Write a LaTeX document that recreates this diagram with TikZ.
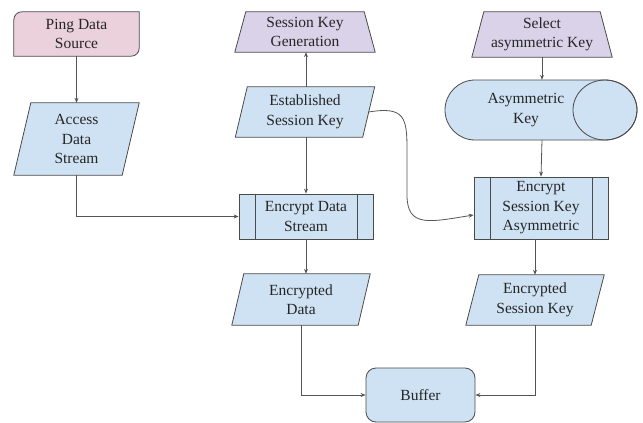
\documentclass[tikz,border=0pt]{standalone}
\usepackage{fontspec}
\setmainfont{Liberation Serif}
\usetikzlibrary{arrows.meta,backgrounds}
\definecolor{pinkF}{HTML}{EAD1DC}
\definecolor{purpF}{HTML}{D9D2E9}
\definecolor{blueF}{HTML}{CFE2F3}
\definecolor{edgeC}{HTML}{4A4A4A}
\definecolor{lineC}{HTML}{555555}
\definecolor{txtC}{HTML}{262626}
\tikzset{
  box/.style={rectangle, inner sep=0pt, align=center, text=txtC,
    font=\fontsize{15.5pt}{19.5pt}\selectfont},
  shp/.style={draw=edgeC, line width=0.8pt},
  proc/.style={box, draw=edgeC, line width=0.8pt, fill=blueF},
  arr/.style={draw=lineC, line width=0.8pt, -{Stealth[length=5pt,width=4pt]}},
}
\newcommand\mypara[3]{\path[shp, fill=#3] ([xshift=#2]#1.north west) -- (#1.north east) -- ([xshift=-#2]#1.south east) -- (#1.south west) -- cycle;}
\newcommand\mytrap[3]{\path[shp, fill=#3] ([xshift=#2]#1.north west) -- ([xshift=-#2]#1.north east) -- (#1.south east) -- (#1.south west) -- cycle;}
\begin{document}
\begin{tikzpicture}[x=1pt,y=-1pt]
\useasboundingbox (0,0) rectangle (643,423);
% nodes
\node[box, minimum width=125pt, minimum height=44pt] (pds) at (76.5,34) {Ping Data\\Source};
\node[box, minimum width=125pt, minimum height=72pt] (ads) at (76.5,139) {Access\\Data\\Stream};
\node[box, minimum width=140pt, minimum height=40pt] (skg) at (305,32) {Session Key\\Generation};
\node[box, minimum width=139pt, minimum height=50pt] (est) at (305,112) {Established\\Session Key};
\node[proc, minimum width=134pt, minimum height=45pt] (eds) at (306,216.5) {Encrypt Data\\Stream};
\node[box, minimum width=138pt, minimum height=51pt] (ed) at (301,299.5) {Encrypted\\Data};
\node[box, minimum width=140pt, minimum height=45pt] (sak) at (542,34.5) {Select\\asymmetric Key};
\node[box, minimum height=60pt] (ak) at (526,110) {Asymmetric\\Key};
\node[proc, minimum width=134pt, minimum height=62pt] (esa) at (541,208) {Encrypt\\Session Key\\Asymmetric};
\node[box, minimum width=138pt, minimum height=50pt] (esk) at (535,300) {Encrypted\\Session Key};
\node[proc, rounded corners=10pt, minimum width=109pt, minimum height=54pt] (buf) at (420.5,395) {Buffer};
% inner lines of process boxes
\draw[edgeC, line width=0.8pt] ([xshift=17pt]eds.north west) -- ([xshift=17pt]eds.south west);
\draw[edgeC, line width=0.8pt] ([xshift=-16pt]eds.north east) -- ([xshift=-16pt]eds.south east);
\draw[edgeC, line width=0.8pt] ([xshift=17pt]esa.north west) -- ([xshift=17pt]esa.south west);
\draw[edgeC, line width=0.8pt] ([xshift=-16pt]esa.north east) -- ([xshift=-16pt]esa.south east);
% shapes behind text
\begin{pgfonlayer}{background}
\path[shp, fill=pinkF] (pds.south west) -- ([yshift=-8pt]pds.north west) arc[start angle=180,end angle=90,radius=8pt] -- (pds.north east) -- ([yshift=8pt]pds.south east) arc[start angle=0,end angle=-90,radius=8pt] -- cycle;
\mypara{ads}{17pt}{blueF}
\mytrap{skg}{11pt}{purpF}
\mypara{est}{12pt}{blueF}
\mypara{ed}{12pt}{blueF}
\mytrap{sak}{12pt}{purpF}
\mypara{esk}{13pt}{blueF}
\path[shp, fill=blueF] (475,80) -- (605,80) arc[start angle=90,end angle=-90,x radius=32pt,y radius=30pt] -- (475,140) arc[start angle=270,end angle=90,x radius=30pt,y radius=30pt] -- cycle;
\draw[shp] (605,110) ellipse[x radius=32pt,y radius=30pt];
\end{pgfonlayer}
% connectors
\draw[arr] (pds.south) -- (ads.north);
\draw[arr] (ads.south) |- (eds.west);
\draw[arr] (eds.north |- est.north) -- (eds.north |- skg.south);
\draw[arr] (eds.north |- est.south) -- (eds.north);
\draw[arr] (eds.south) -- (eds.south |- ed.north);
\draw[arr] (ed.south) |- (buf.west);
\draw[arr] (sak.south) -- (sak.south |- ak.north);
\draw[arr] (sak.south |- ak.south) -- (esa.north);
\draw[arr] (esk.south |- esa.south) -- (esk.north);
\draw[arr] (esk.south) |- (buf.east);
\draw[arr] ([xshift=-6pt]est.east) .. controls (405,106) and (407,118) .. (407,150) -- (407,195) .. controls (407,228) and (430,222) .. ([yshift=-7pt]esa.west);
\end{tikzpicture}
\end{document}
